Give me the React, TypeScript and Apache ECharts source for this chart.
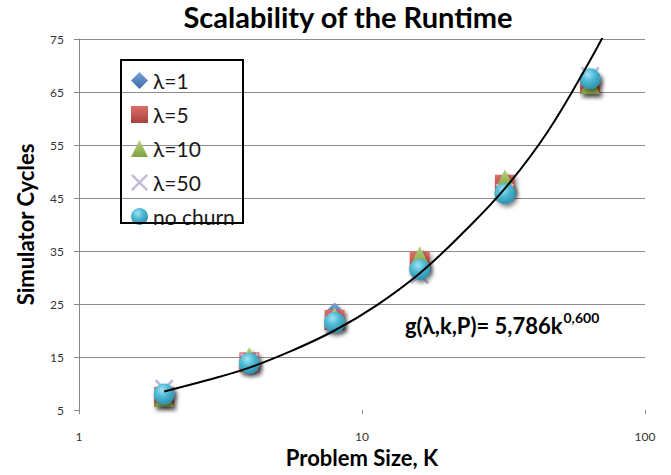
import React, { useEffect, useRef } from "react";
import * as echarts from "echarts";

const problemSizes = [2, 4, 8, 16, 32, 64];
const lambda1 = [8.0, 14.0, 23.5, 32.0, 46.5, 67.0];
const lambda5 = [7.5, 14.0, 22.0, 33.0, 47.5, 66.5];
const lambda10 = [7.5, 15.0, 22.5, 34.0, 48.5, 66.5];
const lambda50 = [9.0, 14.0, 21.0, 30.5, 46.0, 68.0];
const noChurn = [8.0, 13.8, 21.5, 31.5, 45.8, 67.5];

const trendK = [2, 2.83, 4, 5.66, 8, 11.3, 16, 22.6, 32, 45.3, 64, 76];
const trendValues = [8.5, 10.6, 13.0, 16.2, 20.0, 24.8, 30.8, 38.3, 46.8, 57.5, 71.0, 78.5];

const seriesNames = ["λ=1", "λ=5", "λ=10", "λ=50", "no churn"];
const xTickLabels = ["1", "10", "100"];

const FONT = "Lato, 'Open Sans', sans-serif";

const pair = (vals: number[]) => problemSizes.map((k, i) => [k, vals[i]]);

const shadow = {
  shadowBlur: 4,
  shadowColor: "rgba(0,0,0,0.45)",
  shadowOffsetX: 2,
  shadowOffsetY: 3,
};

const lin = (c1: string, c2: string) => ({
  type: "linear",
  x: 0,
  y: 0,
  x2: 0,
  y2: 1,
  colorStops: [
    { offset: 0, color: c1 },
    { offset: 1, color: c2 },
  ],
});

const xPath = "path://M0,1L1,0L5,4L9,0L10,1L6,5L10,9L9,10L5,6L1,10L0,9L4,5Z";

export default function App() {
  const ref = useRef<HTMLDivElement>(null);

  useEffect(() => {
    if (!ref.current) return;
    const chart = echarts.init(ref.current, null, { renderer: "svg" });
    const option: any = {
      animation: false,
      backgroundColor: "#ffffff",
      grid: { left: 79, right: 26, top: 39, bottom: 65, containLabel: false },
      legend: {
        orient: "vertical",
        left: 126,
        top: 65,
        itemWidth: 17,
        itemHeight: 17,
        itemGap: 13,
        itemTextGap: 4,
        itemStyle: { shadowBlur: 0, shadowOffsetX: 0, shadowOffsetY: 0 },
        data: seriesNames,
        textStyle: { fontSize: 21, lineHeight: 20, fontFamily: FONT, color: "#1a1a1a" },
      },
      xAxis: {
        type: "log",
        logBase: 10,
        min: 1,
        max: 100,
        name: "Problem Size, K",
        nameLocation: "middle",
        nameGap: 35,
        nameTextStyle: { fontSize: 22, fontWeight: "bold", fontFamily: FONT, color: "#000" },
        axisLine: { show: false },
        axisTick: { show: true, length: 4, lineStyle: { color: "#868686" } },
        minorTick: { show: false },
        splitLine: { show: false },
        axisLabel: {
          margin: 20,
          fontSize: 12,
          fontFamily: FONT,
          color: "#333",
          formatter: (v: number) => xTickLabels[Math.round(Math.log10(v))] ?? "",
        },
      },
      yAxis: {
        type: "value",
        min: 5,
        max: 75,
        interval: 10,
        name: "Simulator Cycles",
        nameLocation: "middle",
        nameGap: 43,
        nameTextStyle: { fontSize: 22, fontWeight: "bold", fontFamily: FONT, color: "#000" },
        axisLine: { show: true, lineStyle: { color: "#868686", width: 1 } },
        axisTick: { show: true, length: 5, lineStyle: { color: "#868686" } },
        splitLine: {
          show: true,
          lineStyle: {
            color: ["rgba(0,0,0,0)", "#8c8c8c", "#8c8c8c", "#8c8c8c", "#8c8c8c", "#8c8c8c", "#8c8c8c", "#8c8c8c"],
            width: 1,
          },
        },
        axisLabel: { margin: 15, fontSize: 12, fontFamily: FONT, color: "#333" },
      },
      graphic: [
        {
          type: "text",
          x: 348,
          y: 16,
          style: {
            text: "Scalability of the Runtime",
            fontSize: 29,
            fontWeight: "bold",
            fontFamily: FONT,
            fill: "#000",
            align: "center",
            verticalAlign: "middle",
          },
        },
        {
          type: "rect",
          shape: { x: 121, y: 60, width: 122, height: 163 },
          style: { fill: "rgba(0,0,0,0)", stroke: "#000", lineWidth: 2 },
          z: 10,
        },
        {
          type: "text",
          x: 405,
          y: 310,
          z: 20,
          style: {
            text: "{a|g(λ,k,P)= 5,786k}{s|0,600}",
            rich: {
              a: { fontSize: 22, fontWeight: "bold", fontFamily: FONT, fill: "#000", lineHeight: 26, verticalAlign: "bottom" },
              s: { fontSize: 14, fontWeight: "bold", fontFamily: FONT, fill: "#000", lineHeight: 26, verticalAlign: "top", padding: [0, 0, 0, 1] },
            },
          },
        },
      ],
      series: [
        {
          name: "λ=1",
          type: "scatter",
          symbol: "diamond",
          symbolSize: 19,
          data: pair(lambda1),
          itemStyle: { color: lin("#7aa3d6", "#3a6aa8"), opacity: 1, ...shadow },
          z: 2,
        },
        {
          name: "λ=5",
          type: "scatter",
          symbol: "rect",
          symbolSize: 20,
          data: pair(lambda5),
          itemStyle: { color: lin("#de6e6a", "#a8403c"), opacity: 1, ...shadow },
          z: 3,
        },
        {
          name: "λ=10",
          type: "scatter",
          symbol: "triangle",
          symbolSize: 20,
          data: pair(lambda10),
          itemStyle: { color: lin("#b5d37a", "#82a044"), opacity: 1, ...shadow },
          z: 4,
        },
        {
          name: "λ=50",
          type: "scatter",
          symbol: xPath,
          symbolSize: 19,
          data: pair(lambda50),
          itemStyle: { color: "#c4b8dc", opacity: 1 },
          z: 5,
        },
        {
          name: "no churn",
          type: "scatter",
          symbol: "circle",
          symbolSize: 21,
          data: pair(noChurn),
          itemStyle: {
            opacity: 1,
            color: {
              type: "radial",
              x: 0.4,
              y: 0.3,
              r: 0.75,
              colorStops: [
                { offset: 0, color: "#9fe3f3" },
                { offset: 0.45, color: "#4bb8d3" },
                { offset: 1, color: "#2b8aa6" },
              ],
            },
            ...shadow,
          },
          z: 6,
        },
        {
          name: "trend",
          type: "line",
          data: trendK.map((k, i) => [k, trendValues[i]]),
          smooth: 0.4,
          showSymbol: false,
          symbol: "none",
          clip: true,
          lineStyle: { color: "#000", width: 2 },
          z: 8,
        },
      ],
    };
    chart.setOption(option);
    return () => chart.dispose();
  }, []);

  return (
    <div
      ref={ref}
      style={{ width: 671, height: 475, position: "absolute", left: 0, top: 0 }}
    />
  );
}
